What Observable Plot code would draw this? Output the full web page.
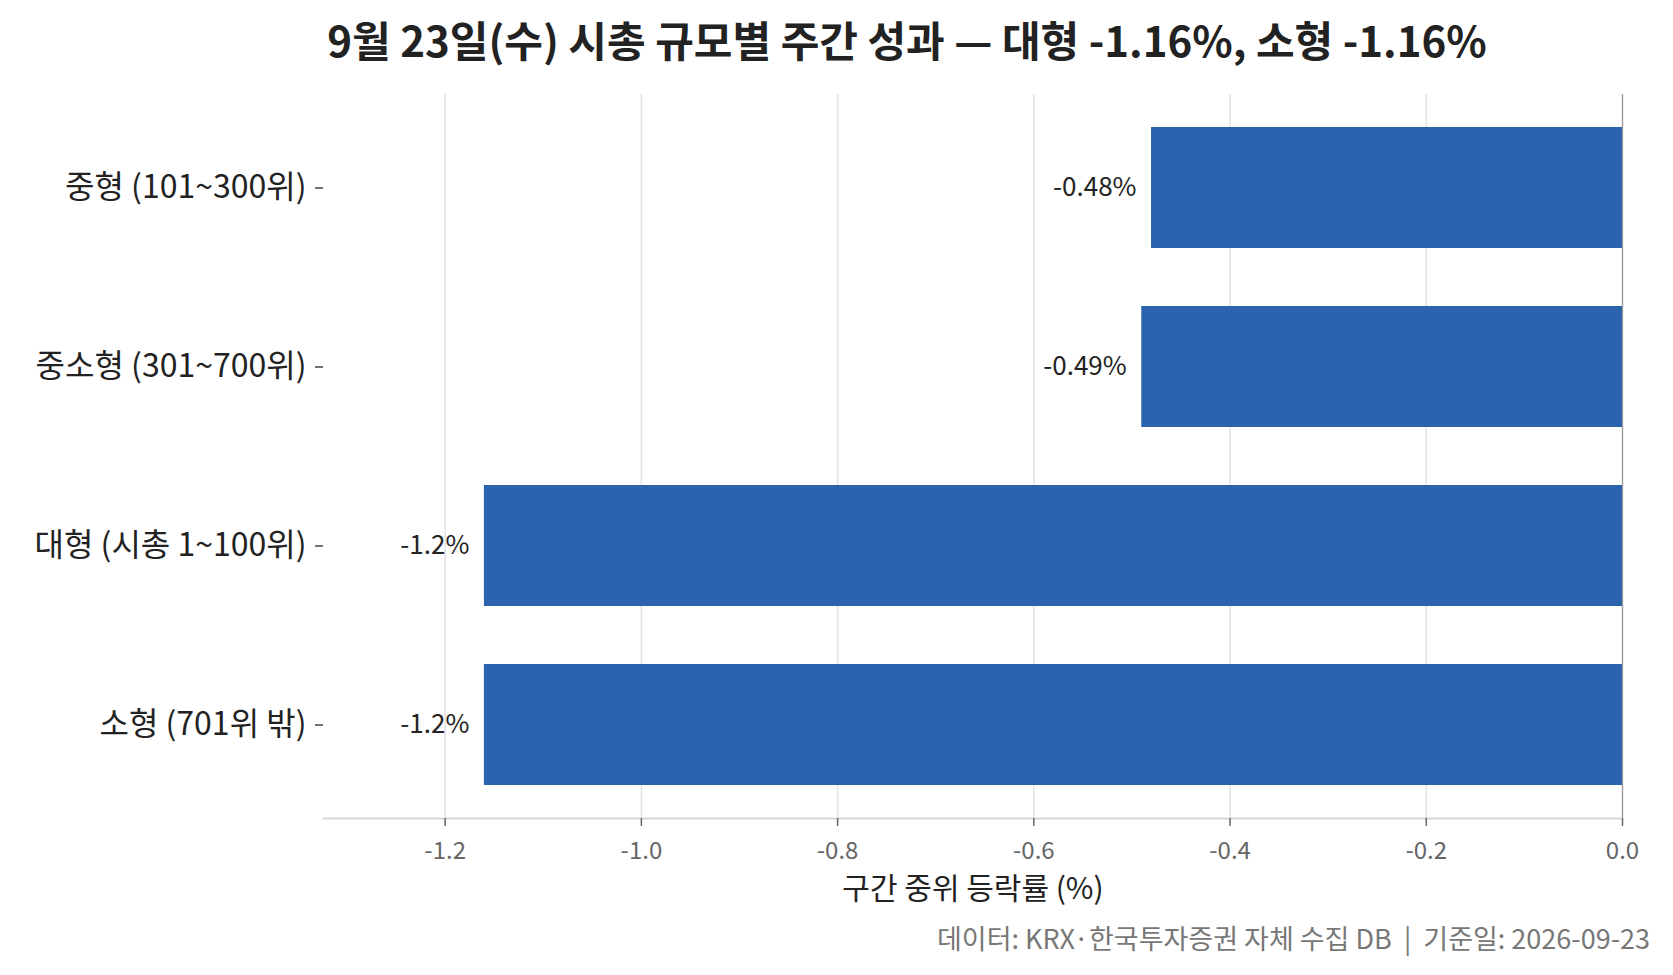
<!DOCTYPE html>
<html>
<head>
<meta charset="utf-8">
<script src="https://cdn.jsdelivr.net/npm/d3@7"></script>
<script src="https://cdn.jsdelivr.net/npm/@observablehq/plot@0.6"></script>
<style>
  html, body { margin: 0; padding: 0; background: #fff; }
  body { font-family: "Noto Sans CJK KR", "Noto Sans", sans-serif; }
  #wrap { position: relative; width: 1673px; height: 975px; overflow: hidden; background: #fff; }
  #title { position: absolute; top: -1px; left: 907px; transform: translateX(-50%); white-space: nowrap;
           font-weight: 700; font-size: 42px; line-height: 80px; color: #222; }
  #chart { position: absolute; top: 80px; left: 0; }
  #foot { position: absolute; right: 23px; top: 920px; font-size: 27px; line-height: 36px; color: #777; white-space: pre; }
</style>
</head>
<body>
<div id="wrap">
  <div id="title"></div>
  <div id="chart"></div>
  <div id="foot"></div>
</div>
<script>
// ---- data ----
const categories = ["중형 (101~300위)", "중소형 (301~700위)", "대형 (시총 1~100위)", "소형 (701위 밖)"];
const medians = [-0.48, -0.49, -1.16, -1.16];
const xTicks = [-1.2, -1.0, -0.8, -0.6, -0.4, -0.2, 0.0];
const xDomain = [-1.324, 0];
const titleText = "9월 23일(수) 시총 규모별 주간 성과 — 대형 -1.16%, 소형 -1.16%";
const xLabel = "구간 중위 등락률 (%)";
const footText = "데이터: KRX·한국투자증권 자체 수집 DB  |  기준일: 2026-09-23";

// ---- build ----
const font = '"Noto Sans CJK KR", "Noto Sans", sans-serif';
const data = categories.map((c, i) => ({cat: c, v: medians[i]}));
const hy = s => s.replace(/\u2212/g, "-");
const tickFmt = d => hy(d3.format(".1f")(d));
const valFmt = d => hy(d3.format(".2")(d)) + "%";

document.getElementById("title").textContent = titleText;
document.getElementById("foot").textContent = footText;

const chart = Plot.plot({
  width: 1673,
  height: 820,
  marginTop: 14,
  marginBottom: 82,
  marginLeft: 323,
  marginRight: 51,
  style: {fontFamily: font, background: "#fff", overflow: "visible"},
  x: {domain: xDomain, label: null},
  y: {domain: categories, paddingInner: 0.324, paddingOuter: 0.184, label: null},
  marks: [
    Plot.gridX(xTicks, {stroke: "#e2e2e2", strokeOpacity: 1, strokeWidth: 1.5}),
    Plot.barX(data, {x: "v", y: "cat", fill: "#2b63ae"}),
    Plot.ruleX([0], {stroke: "#9a9a9a", strokeWidth: 1.2}),
    Plot.frame({anchor: "bottom", stroke: "#d6d6d6", strokeWidth: 2}),
    Plot.axisX(xTicks, {tickSize: 8, tickPadding: 15, stroke: "#666", strokeWidth: 1.5, fill: "#666",
                        fontSize: 24, tickFormat: tickFmt, label: null}),
    Plot.axisY({tickSize: 8, tickPadding: 9, stroke: "#444", strokeWidth: 1.5, fill: "#222",
                fontSize: 32, label: null}),
    Plot.text(data, {x: "v", y: "cat", text: d => valFmt(d.v), textAnchor: "end", dx: -15,
                     fontSize: 26, fill: "#222"}),
    Plot.text([xLabel], {frameAnchor: "bottom", dy: 80, fontSize: 30, fill: "#222"})
  ]
});
document.getElementById("chart").appendChild(chart);
</script>
</body>
</html>
